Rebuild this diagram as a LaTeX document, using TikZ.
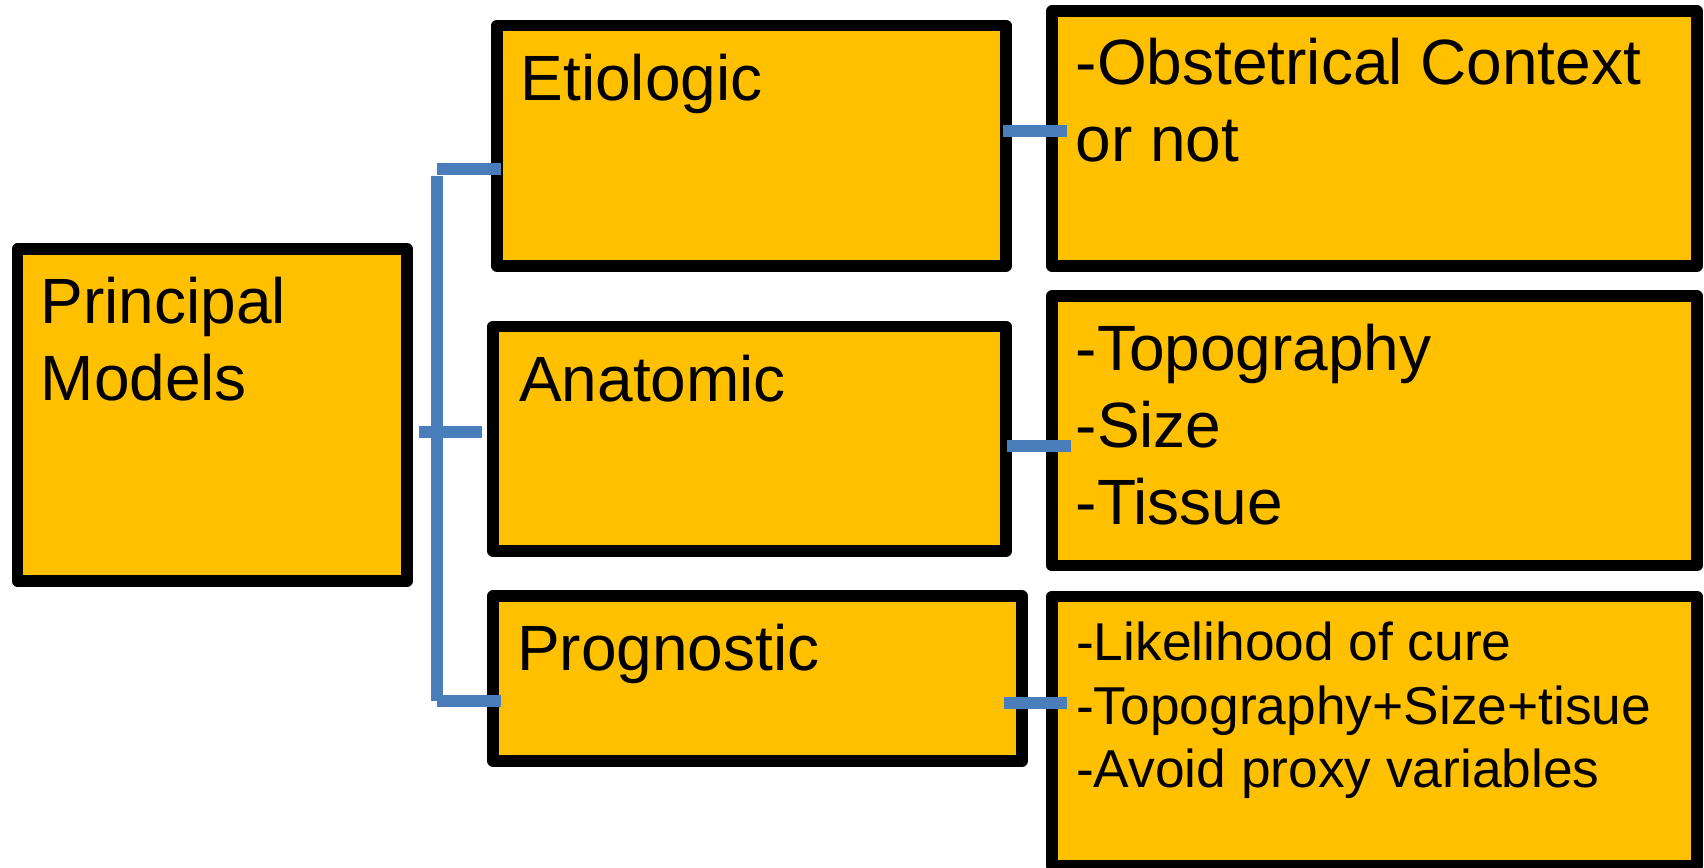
\documentclass[tikz,border=0pt]{standalone}
\usepackage{fontspec}
\setmainfont{Liberation Sans}
\definecolor{boxfill}{HTML}{FFC000}
\definecolor{linkblue}{HTML}{4A7EBB}
\begin{document}
\begin{tikzpicture}[x=1pt,y=-1pt,
  box/.style={rectangle, draw=black, fill=boxfill, line width=11.5pt,
    line join=round, outer sep=0pt, inner sep=0pt},
  big/.style={font=\fontsize{64}{77}\selectfont, anchor=north west,
    align=left, inner sep=0pt},
  small/.style={font=\fontsize{53.3}{63.7}\selectfont, anchor=north west,
    align=left, inner sep=0pt},
  link/.style={draw=linkblue, line width=11.5pt}]
\useasboundingbox (0,0) rectangle (1704,867);

% boxes
\node[box, minimum width=389.3pt, minimum height=332pt]   (pm)   at (212.35,415) {};
\node[box, minimum width=509pt,   minimum height=240.5pt] (etio) at (751.5,145.75) {};
\node[box, minimum width=513pt,   minimum height=224.5pt] (anat) at (749.5,438.75) {};
\node[box, minimum width=529pt,   minimum height=165pt]   (prog) at (757.5,678.5) {};
\node[box, minimum width=645pt,   minimum height=255pt]   (r1)   at (1374.5,138.5) {};
\node[box, minimum width=645pt,   minimum height=269.5pt] (r2)   at (1374.5,430.75) {};
\node[box, minimum width=645pt,   minimum height=269.5pt] (r3)   at (1374.5,731.25) {};

% texts
\node[big] (pm-t)   at (40.5,276.7) {Principal\\Models};
\node[big] (etio-t) at (520.5,53.5) {Etiologic};
\node[big] (anat-t) at (519,354.9) {Anatomic};
\node[big] (prog-t) at (517,623.5) {Prognostic};
\node[big] (r1-t)   at (1075.5,38.3) {-Obstetrical Context\\or not};
\node[big] (r2-t)   at (1075.5,324) {-Topography\\-Size\\-Tissue};
\node[small] (r3-t) at (1076,621.5) {-Likelihood of cure\\-Topography+Size+tisue\\-Avoid proxy variables};

% bracket from the main box to the three models
\coordinate (sp-top) at (437,175.7);
\coordinate (sp-bot) at (437,700.5);
\coordinate (st-etio) at (437,169.2);
\coordinate (st-prog) at (437,701);
\coordinate (st-pm)   at (418.5,431.8);
\coordinate (st-anat) at (482,431.8);
\draw[link] (sp-top) -- (sp-bot);
\draw[link] (st-etio) -- ([xshift=4pt]st-etio -| etio.west);
\draw[link] (st-prog) -- ([xshift=8pt]st-prog -| prog.west);
\draw[link] (st-pm) -- (st-anat);

% links from each model to its details
\coordinate (e1) at (1002.5,131);
\coordinate (a1) at (1006.7,446);
\coordinate (p1) at (1003.6,703);
\draw[link] (e1) -- ([xshift=14.5pt]e1 -| r1.west);
\draw[link] (a1) -- ([xshift=18.5pt]a1 -| r2.west);
\draw[link] (p1) -- ([xshift=14.5pt]p1 -| r3.west);
\end{tikzpicture}
\end{document}
